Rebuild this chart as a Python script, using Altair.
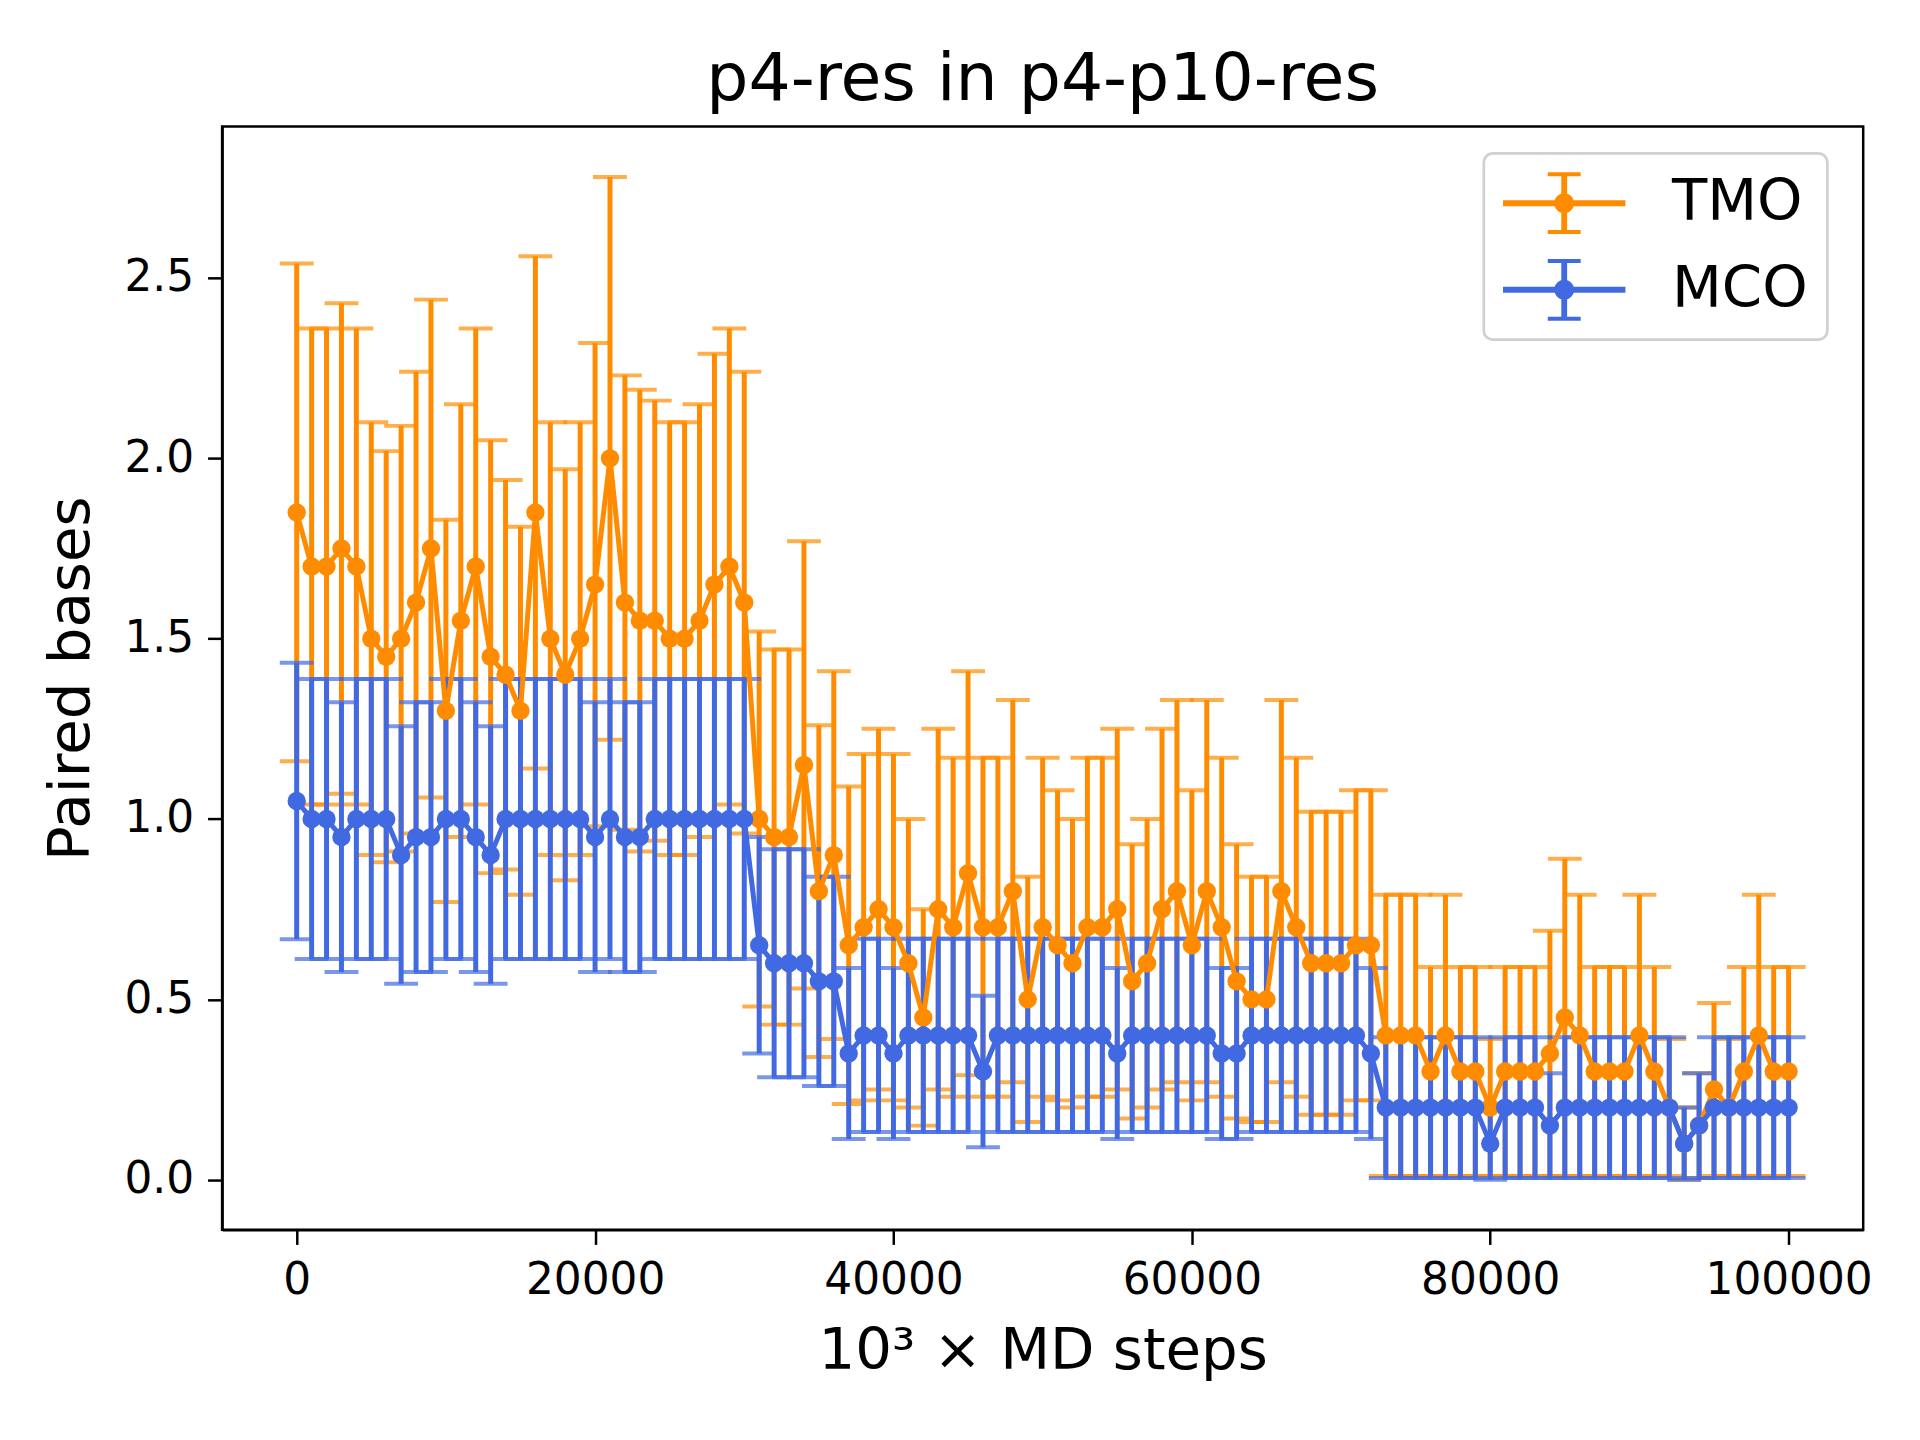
import altair as alt
import pandas as pd

# x positions (10^3 x MD steps)
steps = list(range(0, 100001, 1000))

series_names = ["TMO", "MCO"]
series_colors = ["#ff8c00", "#4169e1"]

tmo_mean = [
    1.85, 1.7, 1.7, 1.75, 1.7, 1.5, 1.45, 1.5, 1.6, 1.75,
    1.3, 1.55, 1.7, 1.45, 1.4, 1.3, 1.85, 1.5, 1.4, 1.5,
    1.65, 2.0, 1.6, 1.55, 1.55, 1.5, 1.5, 1.55, 1.65, 1.7,
    1.6, 1.0, 0.95, 0.95, 1.15, 0.8, 0.9, 0.65, 0.7, 0.75,
    0.7, 0.6, 0.45, 0.75, 0.7, 0.85, 0.7, 0.7, 0.8, 0.5,
    0.7, 0.65, 0.6, 0.7, 0.7, 0.75, 0.55, 0.6, 0.75, 0.8,
    0.65, 0.8, 0.7, 0.55, 0.5, 0.5, 0.8, 0.7, 0.6, 0.6,
    0.6, 0.65, 0.65, 0.4, 0.4, 0.4, 0.3, 0.4, 0.3, 0.3,
    0.2, 0.3, 0.3, 0.3, 0.35, 0.45, 0.4, 0.3, 0.3, 0.3,
    0.4, 0.3, 0.2, 0.1, 0.15, 0.25, 0.2, 0.3, 0.4, 0.3,
    0.3,
]
tmo_err = [
    0.69, 0.66, 0.66, 0.68, 0.66, 0.60, 0.57, 0.59, 0.64, 0.69,
    0.53, 0.60, 0.66, 0.60, 0.54, 0.51, 0.71, 0.60, 0.57, 0.60,
    0.67, 0.78, 0.63, 0.64, 0.61, 0.60, 0.60, 0.60, 0.64, 0.66,
    0.64, 0.52, 0.52, 0.52, 0.62, 0.46, 0.51, 0.44, 0.48, 0.50,
    0.48, 0.40, 0.30, 0.50, 0.47, 0.56, 0.47, 0.47, 0.53, 0.34,
    0.47, 0.43, 0.40, 0.47, 0.47, 0.50, 0.38, 0.40, 0.50, 0.53,
    0.43, 0.53, 0.47, 0.38, 0.34, 0.34, 0.53, 0.47, 0.42, 0.42,
    0.42, 0.43, 0.43, 0.39, 0.39, 0.39, 0.29, 0.39, 0.29, 0.29,
    0.19, 0.29, 0.29, 0.29, 0.34, 0.44, 0.39, 0.29, 0.29, 0.29,
    0.39, 0.29, 0.19, 0.10, 0.145, 0.24, 0.19, 0.29, 0.39, 0.29,
    0.29,
]
mco_mean = [
    1.05, 1.0, 1.0, 0.95, 1.0, 1.0, 1.0, 0.9, 0.95, 0.95,
    1.0, 1.0, 0.95, 0.9, 1.0, 1.0, 1.0, 1.0, 1.0, 1.0,
    0.95, 1.0, 0.95, 0.95, 1.0, 1.0, 1.0, 1.0, 1.0, 1.0,
    1.0, 0.65, 0.6, 0.6, 0.6, 0.55, 0.55, 0.35, 0.4, 0.4,
    0.35, 0.4, 0.4, 0.4, 0.4, 0.4, 0.3, 0.4, 0.4, 0.4,
    0.4, 0.4, 0.4, 0.4, 0.4, 0.35, 0.4, 0.4, 0.4, 0.4,
    0.4, 0.4, 0.35, 0.35, 0.4, 0.4, 0.4, 0.4, 0.4, 0.4,
    0.4, 0.4, 0.35, 0.2, 0.2, 0.2, 0.2, 0.2, 0.2, 0.2,
    0.1, 0.2, 0.2, 0.2, 0.15, 0.2, 0.2, 0.2, 0.2, 0.2,
    0.2, 0.2, 0.2, 0.1, 0.15, 0.2, 0.2, 0.2, 0.2, 0.2,
    0.2,
]
mco_err = [
    0.383, 0.388, 0.388, 0.374, 0.388, 0.388, 0.388, 0.357, 0.374, 0.374,
    0.388, 0.388, 0.374, 0.357, 0.388, 0.388, 0.388, 0.388, 0.388, 0.388,
    0.374, 0.388, 0.374, 0.374, 0.388, 0.388, 0.388, 0.388, 0.388, 0.388,
    0.388, 0.30, 0.316, 0.316, 0.316, 0.29, 0.29, 0.237, 0.268, 0.268,
    0.237, 0.268, 0.268, 0.268, 0.268, 0.268, 0.21, 0.268, 0.268, 0.268,
    0.268, 0.268, 0.268, 0.268, 0.268, 0.237, 0.268, 0.268, 0.268, 0.268,
    0.268, 0.268, 0.237, 0.237, 0.268, 0.268, 0.268, 0.268, 0.268, 0.268,
    0.268, 0.268, 0.237, 0.195, 0.195, 0.195, 0.195, 0.195, 0.195, 0.195,
    0.10, 0.195, 0.195, 0.195, 0.145, 0.195, 0.195, 0.195, 0.195, 0.195,
    0.195, 0.195, 0.195, 0.10, 0.145, 0.195, 0.195, 0.195, 0.195, 0.195,
    0.195,
]

x_ticks = [0, 20000, 40000, 60000, 80000, 100000]
y_ticks = [0.0, 0.5, 1.0, 1.5, 2.0, 2.5]

rows = []
for name, means, errs in [("TMO", tmo_mean, tmo_err), ("MCO", mco_mean, mco_err)]:
    for s, m, e in zip(steps, means, errs):
        rows.append({"series": name, "step": s, "mean": m, "lo": m - e, "hi": m + e})
df = pd.DataFrame(rows)
color_of = dict(zip(series_names, series_colors))

FONT = "DejaVu Sans"
x_scale = alt.Scale(domain=[-5000, 105000], nice=False, zero=False)
y_scale = alt.Scale(domain=[-0.139, 2.92], nice=False, zero=False)
x_axis = alt.Axis(values=x_ticks, format="d", title="10³ ×  MD steps")
y_axis = alt.Axis(values=y_ticks, format=".1f", title="Paired bases")


def X():
    return alt.X("step:Q", scale=x_scale, axis=x_axis)


def Y(field):
    return alt.Y(f"{field}:Q", scale=y_scale, axis=y_axis)


# legend handle: line + errorbar + marker, all as filled shapes
legend_path = (
    "M-1,-0.098H3V0.098H-1Z"
    "M0.905,-0.943H1.095V0.943H0.905Z"
    "M0.463,-1.008H1.537V-0.878H0.463Z"
    "M0.463,0.878H1.537V1.008H0.463Z"
    "M0.675,0A0.325,0.325,0,1,1,1.325,0A0.325,0.325,0,1,1,0.675,0Z"
)
legend = alt.Legend(
    title=None,
    orient="none",
    legendX=1267,
    legendY=27,
    symbolType=legend_path,
    symbolSize=3782,
    symbolOpacity=1,
    symbolStrokeWidth=0,
    labelFont=FONT,
    labelFontSize=58,
    labelColor="black",
    labelOffset=108,
    padding=19,
    rowPadding=25,
    fillColor="rgba(255,255,255,0.8)",
    strokeColor="#d0d0d0",
    cornerRadius=9,
)
color_legend = alt.Color(
    "series:N", scale=alt.Scale(domain=series_names, range=series_colors), legend=legend
)

base = alt.Chart(df)


def bar_layers(name):
    sub = base.transform_filter(alt.datum.series == name)
    c = color_of[name]
    rule = sub.mark_rule(strokeWidth=5, color=c).encode(x=X(), y=Y("lo"), y2="hi:Q")
    cap_lo = sub.mark_tick(orient="horizontal", size=34, thickness=4, color=c).encode(
        x=X(), y=Y("lo")
    )
    cap_hi = sub.mark_tick(orient="horizontal", size=34, thickness=4, color=c).encode(
        x=X(), y=Y("hi")
    )
    return [rule, cap_lo, cap_hi]


def line_layers(name):
    sub = base.transform_filter(alt.datum.series == name)
    c = color_of[name]
    line = sub.mark_line(strokeWidth=5, color=c).encode(x=X(), y=Y("mean"))
    pts = sub.mark_circle(size=340, opacity=1).encode(
        x=X(), y=Y("mean"), color=color_legend
    )
    return [line, pts]


layers = bar_layers("TMO") + bar_layers("MCO") + line_layers("TMO") + line_layers("MCO")

chart = (
    alt.layer(*layers)
    .properties(
        width=1648,
        height=1108,
        title=alt.Title(
            "p4-res in p4-p10-res",
            font=FONT,
            fontSize=66.7,
            fontWeight="normal",
            color="black",
            anchor="middle",
            offset=13,
        ),
        autosize=alt.AutoSizeParams(type="none"),
        padding={"left": 215, "top": 116, "right": 49, "bottom": 200},
    )
    .configure_view(stroke="black", strokeWidth=2.5)
    .configure_axis(
        grid=False,
        domainColor="black",
        domainWidth=2.5,
        tickColor="black",
        tickWidth=2.5,
        tickSize=14.6,
        labelFont=FONT,
        labelFontSize=44,
        labelColor="black",
        labelPadding=14,
        titleFont=FONT,
        titleFontSize=58,
        titleFontWeight="normal",
        titleColor="black",
    )
    .configure_axisX(titlePadding=21)
    .configure_axisY(titlePadding=24)
    .configure_legend(strokeWidth=2.7)
)

chart.save("out.html", embed_options={"renderer": "svg", "actions": False})
